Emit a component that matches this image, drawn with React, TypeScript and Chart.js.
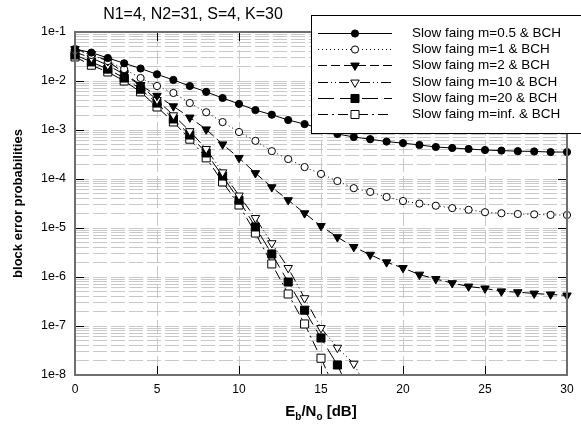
import React, { useEffect, useRef } from 'react';
import { Chart, registerables } from 'chart.js';

Chart.register(...registerables);

// ---------- data ----------
const snrDb = [0, 1, 2, 3, 4, 5, 6, 7, 8, 9, 10, 11, 12, 13, 14, 15, 16, 17, 18, 19, 20, 21, 22, 23, 24, 25, 26, 27, 28, 29, 30];

const slowM05 = [4.5e-2, 3.8e-2, 2.95e-2, 2.3e-2, 1.8e-2, 1.37e-2, 1.05e-2, 7.9e-3, 6.0e-3, 4.5e-3, 3.4e-3, 2.55e-3, 2.05e-3, 1.6e-3, 1.32e-3, 1.07e-3, 8.3e-4, 7.2e-4, 6.5e-4, 5.8e-4, 5.4e-4, 4.95e-4, 4.5e-4, 4.3e-4, 4.1e-4, 3.9e-4, 3.8e-4, 3.7e-4, 3.65e-4, 3.55e-4, 3.55e-4];
const slowM1 = [4.3e-2, 3.4e-2, 2.55e-2, 1.75e-2, 1.15e-2, 7.9e-3, 5.7e-3, 3.55e-3, 2.3e-3, 1.45e-3, 9.1e-4, 6.0e-4, 3.7e-4, 2.55e-4, 1.75e-4, 1.27e-4, 9.1e-5, 6.5e-5, 5.45e-5, 4.3e-5, 3.55e-5, 3.15e-5, 2.85e-5, 2.55e-5, 2.35e-5, 2.1e-5, 2.0e-5, 1.93e-5, 1.9e-5, 1.85e-5, 1.84e-5];
const slowM2 = [4.5e-2, 3.55e-2, 2.55e-2, 1.45e-2, 8.3e-3, 5.0e-3, 3.05e-3, 1.8e-3, 1.03e-3, 5.1e-4, 2.7e-4, 1.32e-4, 6.8e-5, 3.7e-5, 2.0e-5, 1.1e-5, 6.5e-6, 4.1e-6, 2.85e-6, 2.0e-6, 1.53e-6, 1.12e-6, 9.1e-7, 7.5e-7, 6.4e-7, 5.85e-7, 5.1e-7, 4.9e-7, 4.6e-7, 4.4e-7, 4.2e-7];
const slowM10 = [3.9e-2, 2.95e-2, 2.1e-2, 1.37e-2, 8.0e-3, 4.1e-3, 2.0e-3, 9.5e-4, 4.1e-4, 1.37e-4, 4.6e-5, 1.6e-5, 4.9e-6, 1.53e-6, 3.7e-7, 9.1e-8, 3.6e-8, 1.7e-8, 4e-9];
const slowM20 = [3.4e-2, 2.45e-2, 1.75e-2, 1.15e-2, 6.8e-3, 3.55e-3, 1.68e-3, 7.9e-4, 3.4e-4, 1.15e-4, 3.7e-5, 1.05e-5, 2.95e-6, 7.9e-7, 2.1e-7, 5.7e-8, 1.6e-8, 3e-9];
const slowMInf = [3.1e-2, 2.1e-2, 1.53e-2, 1.0e-2, 6.0e-3, 2.95e-3, 1.46e-3, 6.5e-4, 2.7e-4, 8.7e-5, 2.95e-5, 7.9e-6, 1.85e-6, 4.5e-7, 1.1e-7, 2.2e-8, 4e-9];

const seriesLabels = [
  'Slow faing m=0.5 & BCH',
  'Slow faing m=1 & BCH',
  'Slow faing m=2 & BCH',
  'Slow faing m=10 & BCH',
  'Slow faing m=20 & BCH',
  'Slow faing m=inf. & BCH',
];

const xTickValues = [0, 5, 10, 15, 20, 25, 30];
const yDecadeValues = [1e-8, 1e-7, 1e-6, 1e-5, 1e-4, 1e-3, 1e-2, 1e-1];
const yTickLabels = ['1e-8', '1e-7', '1e-6', '1e-5', '1e-4', '1e-3', '1e-2', '1e-1'];
const yMinorMultipliers = [1, 2, 3, 4, 5, 6, 7, 8, 9];

const titleText = 'N1=4, N2=31, S=4, K=30';
const yTitleText = 'block error probabilities';

const FONT = '"Liberation Sans", Arial, Helvetica, sans-serif';

function toPoints(values: number[]) {
  return values.map((v, i) => ({ x: snrDb[i], y: v }));
}

function drawMarker(ctx: CanvasRenderingContext2D, style: string, x: number, y: number, r: number, rot: number, fill: string, stroke: string) {
  ctx.save();
  ctx.setLineDash([]);
  ctx.beginPath();
  if (style === 'circle') {
    ctx.arc(x, y, r, 0, Math.PI * 2);
  } else if (style === 'triangle') {
    let rad = (rot * Math.PI) / 180;
    ctx.moveTo(x + Math.sin(rad) * r, y - Math.cos(rad) * r);
    rad += (2 * Math.PI) / 3;
    ctx.lineTo(x + Math.sin(rad) * r, y - Math.cos(rad) * r);
    rad += (2 * Math.PI) / 3;
    ctx.lineTo(x + Math.sin(rad) * r, y - Math.cos(rad) * r);
  } else {
    const s = r * Math.SQRT1_2;
    ctx.rect(x - s, y - s, 2 * s, 2 * s);
  }
  ctx.closePath();
  ctx.fillStyle = fill;
  ctx.fill();
  ctx.lineWidth = 1;
  ctx.strokeStyle = stroke;
  ctx.stroke();
  ctx.restore();
}

const decorPlugin = {
  id: 'decor',
  afterDraw(chart: any) {
    const { ctx, chartArea: a, scales } = chart;
    const xs = scales.x;
    const ys = scales.y;
    ctx.save();

    // inward tick marks
    ctx.strokeStyle = '#000';
    ctx.lineWidth = 1;
    ctx.setLineDash([]);
    ctx.beginPath();
    yDecadeValues.forEach((v) => {
      const y = Math.round(ys.getPixelForValue(v)) + 0.5;
      ctx.moveTo(a.left, y);
      ctx.lineTo(a.left + 9, y);
      ctx.moveTo(a.right, y);
      ctx.lineTo(a.right - 9, y);
    });
    xTickValues.forEach((v) => {
      const x = Math.round(xs.getPixelForValue(v)) + 0.5;
      ctx.moveTo(x, a.bottom);
      ctx.lineTo(x, a.bottom - 9);
      ctx.moveTo(x, a.top);
      ctx.lineTo(x, a.top + 9);
    });
    ctx.stroke();

    // frame
    ctx.strokeStyle = '#6e6e6e';
    ctx.lineWidth = 2;
    ctx.strokeRect(a.left, a.top, a.right - a.left, a.bottom - a.top);

    // title
    ctx.fillStyle = '#000';
    ctx.font = `16px ${FONT}`;
    ctx.textAlign = 'center';
    ctx.textBaseline = 'alphabetic';
    ctx.fillText(titleText, 193, 19);

    // y axis title
    ctx.save();
    ctx.translate(18, (a.top + a.bottom) / 2);
    ctx.rotate(-Math.PI / 2);
    ctx.font = `bold 13px ${FONT}`;
    ctx.textAlign = 'center';
    ctx.textBaseline = 'middle';
    ctx.fillText(yTitleText, 0, 0);
    ctx.restore();

    // x axis title with subscripts
    const parts: [string, number, number][] = [
      ['E', 15, 0],
      ['b', 10, 4],
      ['/N', 15, 0],
      ['o', 10, 4],
      [' [dB]', 15, 0],
    ];
    let total = 0;
    parts.forEach(([t, s]) => {
      ctx.font = `bold ${s}px ${FONT}`;
      total += ctx.measureText(t).width;
    });
    let cx = (a.left + a.right) / 2 - total / 2;
    ctx.textAlign = 'left';
    ctx.textBaseline = 'alphabetic';
    parts.forEach(([t, s, dy]) => {
      ctx.font = `bold ${s}px ${FONT}`;
      ctx.fillText(t, cx, 416 + dy);
      cx += ctx.measureText(t).width;
    });

    // legend
    const bx = 311.5;
    const by = 15.5;
    ctx.fillStyle = '#fff';
    ctx.fillRect(bx, by, 300, 118);
    ctx.strokeStyle = '#000';
    ctx.lineWidth = 1;
    ctx.strokeRect(bx, by, 300, 118);
    chart.data.datasets.forEach((ds: any, i: number) => {
      const y = Math.round(33 + i * 16.2) + 0.5;
      ctx.save();
      ctx.strokeStyle = '#000';
      ctx.lineWidth = 1;
      ctx.setLineDash(ds.borderDash || []);
      ctx.beginPath();
      ctx.moveTo(318, y);
      ctx.lineTo(392, y);
      ctx.stroke();
      ctx.restore();
      drawMarker(ctx, ds.pointStyle, 355, y, ds.pointRadius, ds.pointRotation || 0, ds.pointBackgroundColor, '#000');
      ctx.fillStyle = '#000';
      ctx.font = `13.5px ${FONT}`;
      ctx.textAlign = 'left';
      ctx.textBaseline = 'middle';
      ctx.fillText(seriesLabels[i], 412, y);
    });

    ctx.restore();
  },
};

function makeDataset(i: number, values: number[], dash: number[], style: string, radius: number, rotation: number, fill: string) {
  return {
    label: seriesLabels[i],
    data: toPoints(values),
    borderColor: '#000',
    borderWidth: 1,
    borderDash: dash,
    pointStyle: style,
    pointRadius: radius,
    pointRotation: rotation,
    pointBackgroundColor: fill,
    pointBorderColor: '#000',
    pointBorderWidth: 1,
    tension: 0,
    fill: false,
    clip: { left: 8, right: 8, top: 6, bottom: 0 },
  };
}

export default function App() {
  const canvasRef = useRef<HTMLCanvasElement | null>(null);

  useEffect(() => {
    document.body.style.margin = '0';
    const canvas = canvasRef.current;
    if (!canvas) return;
    Chart.defaults.font.family = FONT;

    const chart = new Chart(canvas, {
      type: 'line',
      data: {
        datasets: [
          makeDataset(0, slowM05, [], 'circle', 3.6, 0, '#000'),
          makeDataset(1, slowM1, [1, 3], 'circle', 3.6, 0, '#fff'),
          makeDataset(2, slowM2, [9, 4], 'triangle', 4.9, 180, '#000'),
          makeDataset(3, slowM10, [10, 3, 1, 3, 1, 3], 'triangle', 4.9, 180, '#fff'),
          makeDataset(4, slowM20, [16, 6], 'rect', 5.7, 0, '#000'),
          makeDataset(5, slowMInf, [10, 4, 2, 4], 'rect', 5.7, 0, '#fff'),
        ] as any,
      },
      options: {
        animation: false,
        responsive: false,
        maintainAspectRatio: false,
        layout: { padding: { left: 0, top: 32, right: 14, bottom: 0 } },
        plugins: {
          legend: { display: false },
          title: { display: false },
          tooltip: { enabled: false },
        },
        scales: {
          x: {
            type: 'linear',
            min: 0,
            max: 30,
            afterFit: (scale: any) => {
              scale.height = 56;
            },
            afterBuildTicks: (scale: any) => {
              scale.ticks = xTickValues.map((v) => ({ value: v }));
            },
            ticks: {
              color: '#000',
              font: { size: 12, family: FONT },
              padding: 7,
              maxRotation: 0,
              autoSkip: false,
            },
            grid: {
              color: '#c8c8c8',
              lineWidth: 1,
              drawTicks: false,
            },
            border: { display: false, dash: [14, 4] },
          },
          y: {
            type: 'logarithmic',
            min: 1e-8,
            max: 1e-1,
            afterFit: (scale: any) => {
              scale.width = 75;
            },
            afterBuildTicks: (scale: any) => {
              const vals: { value: number }[] = [];
              yDecadeValues.forEach((d, di) => {
                if (di === yDecadeValues.length - 1) {
                  vals.push({ value: d });
                } else {
                  yMinorMultipliers.forEach((m) => vals.push({ value: d * m }));
                }
              });
              scale.ticks = vals;
            },
            ticks: {
              color: '#000',
              font: { size: 12.5, family: FONT },
              padding: 9,
              autoSkip: false,
              callback: (value: any) => {
                const lv = Math.log10(Number(value));
                const idx = yDecadeValues.findIndex((d) => Math.abs(Math.log10(d) - lv) < 1e-6);
                return idx >= 0 ? yTickLabels[idx] : '';
              },
            },
            grid: {
              color: '#c8c8c8',
              lineWidth: 1,
              drawTicks: false,
            },
            border: { display: false, dash: [14, 4] },
          },
        },
      } as any,
      plugins: [decorPlugin as any],
    });

    return () => {
      chart.destroy();
    };
  }, []);

  return (
    <div style={{ position: 'absolute', left: 0, top: 0, width: 581, height: 431 }}>
      <canvas ref={canvasRef} width={581} height={431} style={{ display: 'block' }} />
    </div>
  );
}
